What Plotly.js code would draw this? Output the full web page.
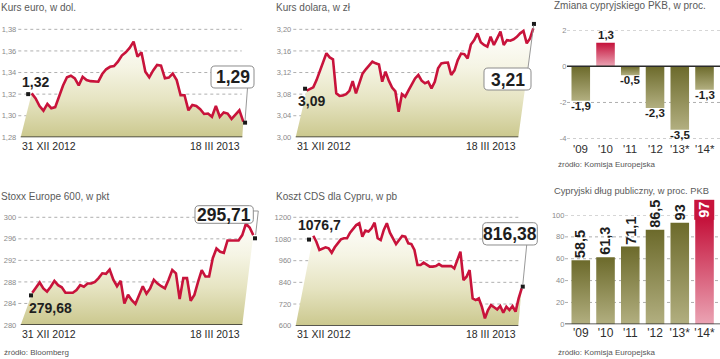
<!DOCTYPE html>
<html><head><meta charset="utf-8">
<script src="https://cdn.plot.ly/plotly-3.0.1.min.js"></script>
<style>html,body{margin:0;padding:0;background:#fff}#chart{width:720px;height:359px}</style>
</head><body><div id="chart"></div>
<script>
// ================= DATA =================
const dateLabels = ["31 XII 2012", "18 III 2013"];

const euroTitle = "Kurs euro, w dol.";
const euroRate = [1.3207,1.316,1.309,1.3047,1.311,1.307,1.308,1.318,1.328,1.3356,
  1.337,1.3346,1.328,1.336,1.333,1.332,1.332,1.3315,1.3386,1.343,
  1.3453,1.346,1.350,1.3557,1.3587,1.3628,1.3686,1.3547,1.3587,1.3408,
  1.3356,1.342,1.347,1.3464,1.3346,1.3353,1.339,1.333,1.319,1.319,
  1.305,1.310,1.309,1.306,1.3016,1.302,1.299,1.309,1.299,1.303,
  1.302,1.297,1.301,1.305,1.2945];
const euroTicks = [1.28,1.30,1.32,1.34,1.36,1.38];
const euroTickText = ["1,28","1,30","1,32","1,34","1,36","1,38"];
const euroStartEnd = [1.32, 1.2936];
const euroStartEndText = ["1,32", "1,29"];

const usdTitle = "Kurs dolara, w zł";
const usdRate = [3.0864,3.0889,3.0926,3.106,3.1216,3.137,3.1556,3.148,3.1446,3.0815,
  3.0768,3.0775,3.080,3.086,3.104,3.0815,3.100,3.118,3.126,3.133,
  3.140,3.137,3.135,3.103,3.1216,3.105,3.092,3.085,3.0475,3.080,
  3.0753,3.087,3.098,3.109,3.1154,3.105,3.100,3.103,3.0907,3.103,
  3.1278,3.137,3.138,3.1383,3.1154,3.124,3.143,3.1551,3.154,3.1463,
  3.1719,3.180,3.1926,3.176,3.171,3.168,3.1864,3.171,3.1833,3.1957,
  3.171,3.180,3.179,3.1815,3.186,3.1926,3.197,3.174,3.1833,3.2019];
const usdTicks = [3.00,3.04,3.08,3.12,3.16,3.20];
const usdTickText = ["3,00","3,04","3,08","3,12","3,16","3,20"];
const usdStartEnd = [3.09, 3.21];
const usdStartEndText = ["3,09", "3,21"];

const stoxxTitle = "Stoxx Europe 600, w pkt";
const stoxx = [286.0,287.0,287.9,286.8,286.2,287.1,288.2,287.4,287.0,286.0,
  286.0,286.0,286.5,287.4,287.1,287.7,287.7,288.0,288.7,289.6,
  289.5,290.3,288.4,287.2,288.2,284.0,285.6,284.6,283.9,285.6,
  287.2,285.8,286.8,288.4,287.7,287.2,286.8,288.4,290.2,289.6,
  284.8,288.7,288.7,284.5,285.6,288.0,290.2,289.0,289.0,292.4,
  294.2,293.6,293.4,295.7,295.7,295.7,295.7,296.7,298.8,298.1,296.7];
const stoxxTicks = [280,284,288,292,296,300];
const stoxxTickText = ["280","284","288","292","296","300"];
const stoxxStartEnd = [285.5, 296.1];
const stoxxStartEndText = ["279,68", "295,71"];

const cdsTitle = "Koszt CDS dla Cypru, w pb";
const cds = [1098,1065,1019,1025,1034,1028,1004,1034,1056,1078,
  1084,1084,1115,1136,1157,1167,1093,1126,1121,1139,
  1170,1084,1074,1130,1167,1115,1084,1052,1074,1097,
  1093,1056,1052,1019,936,936,949,936,927,927,
  930,941,930,930,930,930,917,964,1010,853,
  871,908,751,742,751,705,641,687,714,702,
  690,709,672,705,687,709,678,751,807];
const cdsTicks = [600,720,840,960,1080,1200];
const cdsTickText = ["600","720","840","960","1080","1200"];
const cdsStartEnd = [1076.7, 816.38];
const cdsStartEndText = ["1076,7", "816,38"];

const gdpTitle = "Zmiana cypryjskiego PKB, w proc.";
const years = ["'09","'10","'11","'12","'13*","'14*"];
const gdpChange = [-1.9, 1.3, -0.5, -2.3, -3.5, -1.3];
const gdpTicks = [-4,-2,0,2];
const gdpTickText = ["-4","-2","0","2"];

const debtTitle = "Cypryjski dług publiczny, w proc. PKB";
const debtShare = [58.5, 61.3, 71.1, 86.5, 93, 97];
const debtHighlight = [false,false,false,false,false,true];
const debtTicks = [0,20,40,60,80,100];
const debtTickText = ["0","20","40","60","80","100"];

const srcBloomberg = "źródło: Bloomberg";
const srcKE = "źródło: Komisja Europejska";

// ================= STYLE / LAYOUT =================
const W = 720, H = 359;
const fx = p => p / W;
const fy = p => 1 - p / H;
const FONT = '"Liberation Sans", Arial, sans-serif';
const NARROW = '"Liberation Sans Narrow", "Liberation Sans", Arial, sans-serif';
const RED = 'rgb(200, 20, 60)';
const OLIVE = 'rgb(130, 128, 64)';
const LINE = '#c8133b';
const GRID = '#9a9a9a';

const data = [];
const shapes = [];
const annotations = [];
const layout = {
  width: W, height: H, margin: {l:0, r:0, t:0, b:0},
  paper_bgcolor: '#fff', plot_bgcolor: 'rgba(0,0,0,0)',
  showlegend: false, separators: ', ', bargap: 0.25,
  font: {family: FONT, color: '#333'},
  shapes, annotations
};

function txt(px, py, text, o) {
  o = o || {};
  annotations.push({
    xref: 'paper', yref: 'paper', x: fx(px), y: fy(py), text: text, showarrow: false,
    xanchor: o.xa || 'left', yanchor: o.ya || 'middle', borderpad: 0,
    font: {family: o.family || FONT, size: o.size || 10, color: o.color || '#333', weight: o.weight || 'normal'}
  });
}
function pathPx(pts) {
  return pts.map((p, i) => (i ? 'L' : 'M') + fx(p[0]).toFixed(5) + ',' + fy(p[1]).toFixed(5)).join(' ');
}
function roundRect(x0, y0, x1, y1, r) {
  const P = (x, y) => fx(x).toFixed(5) + ',' + fy(y).toFixed(5);
  return 'M' + P(x0 + r, y0) + ' L' + P(x1 - r, y0) + ' Q' + P(x1, y0) + ' ' + P(x1, y0 + r) +
    ' L' + P(x1, y1 - r) + ' Q' + P(x1, y1) + ' ' + P(x1 - r, y1) +
    ' L' + P(x0 + r, y1) + ' Q' + P(x0, y1) + ' ' + P(x0, y1 - r) +
    ' L' + P(x0, y0 + r) + ' Q' + P(x0, y0) + ' ' + P(x0 + r, y0) + ' Z';
}

function linePanel(n, c) {
  const N = c.vals.length;
  const idx = c.vals.map((_, i) => i);
  const step = (c.L1 - c.L0) / (N - 1);
  const xOf = p => (p - c.L0) / step;
  const k = (c.cal[3] - c.cal[1]) / (c.cal[2] - c.cal[0]);
  const pyAt = v => c.cal[1] + (v - c.cal[0]) * k;
  const leftPx = c.G0 - 1, rightPx = c.rightPx;
  const yMin = c.ticks[0];
  const xa = 'x' + n, ya = 'y' + n;
  layout['xaxis' + n] = {domain: [fx(leftPx), fx(rightPx)], range: [xOf(leftPx), xOf(rightPx)],
    visible: false, fixedrange: true, anchor: ya};
  layout['yaxis' + n] = {domain: [fy(pyAt(yMin)), fy(pyAt(c.yMax))], range: [yMin, c.yMax], anchor: xa,
    tickvals: c.ticks, ticktext: c.tickText, ticks: '', showgrid: false, zeroline: false, showline: false,
    tickfont: {family: FONT, size: 7.5, color: '#8a8a8a'}, ticklabelstandoff: 0, fixedrange: true};
  // gridlines
  c.ticks.slice(1).forEach(t => shapes.push({type: 'line', xref: 'paper', yref: ya, x0: fx(c.G0), x1: fx(c.G1),
    y0: t, y1: t, layer: 'below', line: {color: GRID, width: 0.8, dash: 'dot'}}));
  // area with perspective base
  data.push({type: 'scatter', xaxis: xa, yaxis: ya, mode: 'lines', line: {width: 0},
    x: [xOf(c.B0)].concat(idx, [xOf(c.B1)]), y: [yMin].concat(c.vals, [yMin]),
    fill: 'toself', fillcolor: '#ecebd0',
    fillgradient: {type: 'vertical', start: yMin, stop: c.ticks[c.ticks.length - 1],
      colorscale: [[0, '#cbc88e'], [0.35, '#e6e4c2'], [0.65, '#f5f4e4'], [1, '#ffffff']]},
    hoverinfo: 'skip'});
  // base line
  shapes.push({type: 'line', xref: 'paper', yref: ya, x0: fx(c.B0), x1: fx(c.B1), y0: yMin, y1: yMin,
    layer: 'above', line: {color: '#2a2a2a', width: 1.6}});
  // series line
  data.push({type: 'scatter', xaxis: xa, yaxis: ya, mode: 'lines', x: idx, y: c.vals,
    line: {color: LINE, width: 2.6, shape: 'linear'}, hoverinfo: 'skip'});
  // start / end markers
  data.push({type: 'scatter', xaxis: xa, yaxis: ya, mode: 'markers', cliponaxis: false,
    x: [c.mStart, N - 1 + c.mEnd], y: c.se,
    marker: {symbol: 'square', size: 4, color: '#1a1a1a'}, hoverinfo: 'skip'});
  // texts
  txt(c.titleX, c.titleY, c.title, {size: 10, color: '#5a5a5a'});
  txt(c.B0, c.dateY, dateLabels[0], {size: 10.5, color: '#2a2a2a'});
  txt(c.B1 - 1, c.dateY, dateLabels[1], {size: 10.5, color: '#2a2a2a', xa: 'right'});
  txt(c.sl[0], c.sl[1], c.seText[0], {family: NARROW, size: 14, weight: 'bold', color: '#1e1e1e'});
  // value box
  const b = c.box;
  shapes.push({type: 'path', xref: 'paper', yref: 'paper', path: roundRect(b[0], b[1], b[2], b[3], 4),
    fillcolor: '#ffffff', line: {color: '#8c8c8c', width: 1}, layer: 'above'});
  shapes.push({type: 'path', xref: 'paper', yref: 'paper', path: pathPx(c.ptr),
    line: {color: '#8c8c8c', width: 0.9}, layer: 'above'});
  txt((b[0] + b[2]) / 2, (b[1] + b[3]) / 2 + 0.5, c.seText[1],
    {family: NARROW, size: 17.5, weight: 'bold', color: '#1e1e1e', xa: 'center'});
}

linePanel(1, {vals: euroRate, ticks: euroTicks, tickText: euroTickText, se: euroStartEnd, seText: euroStartEndText,
  title: euroTitle, titleX: 0, titleY: 7, cal: [1.28, 137.33, 1.38, 29.33], yMax: 1.385,
  L0: 31.7, L1: 243.3, B0: 20.7, B1: 242.3, G0: 18.3, G1: 241.7, rightPx: 249,
  mStart: -0.9, mEnd: 0.45, dateY: 146, sl: [20.5, 82],
  box: [211, 66, 254, 88], ptr: [[247.5, 88], [245, 121]]});

linePanel(2, {vals: usdRate, ticks: usdTicks, tickText: usdTickText, se: usdStartEnd, seText: usdStartEndText,
  title: usdTitle, titleX: 275, titleY: 7, cal: [3.00, 137.33, 3.20, 29.33], yMax: 3.21,
  L0: 306.7, L1: 533.3, B0: 295.7, B1: 518.3, G0: 293.3, G1: 518.3, rightPx: 538,
  mStart: -0.5, mEnd: 0.2, dateY: 146, sl: [296.5, 101],
  box: [484, 68, 531, 90], ptr: [[528, 68], [533.6, 25.5]]});

linePanel(3, {vals: stoxx, ticks: stoxxTicks, tickText: stoxxTickText, se: stoxxStartEnd, seText: stoxxStartEndText,
  title: stoxxTitle, titleX: 0, titleY: 196, cal: [280, 325, 300, 217.3], yMax: 300.5,
  L0: 32.3, L1: 253.3, B0: 20.7, B1: 242.3, G0: 18.3, G1: 242.3, rightPx: 259,
  mStart: -0.35, mEnd: 0.46, dateY: 334, sl: [28, 308],
  box: [195, 205.7, 253.3, 223.3], ptr: [[253.3, 211], [258.3, 211], [255.6, 235]]});

linePanel(4, {vals: cds, ticks: cdsTicks, tickText: cdsTickText, se: cdsStartEnd, seText: cdsStartEndText,
  title: cdsTitle, titleX: 275, titleY: 196, cal: [600, 325.7, 1200, 217.3], yMax: 1210,
  L0: 313.3, L1: 521.7, B0: 295.7, B1: 518.3, G0: 293.3, G1: 518.3, rightPx: 527,
  mStart: -1.4, mEnd: 0.35, dateY: 334, sl: [296.5, 225.5],
  box: [482.7, 222.7, 537.3, 245], ptr: [[526.7, 245], [522.8, 284.5]]});

// ---------- bar panels ----------
function barPanel(n, c) {
  const xa = 'x' + n, ya = 'y' + n;
  const k = (c.cal[3] - c.cal[1]) / (c.cal[2] - c.cal[0]);
  const pyAt = v => c.cal[1] + (v - c.cal[0]) * k;
  layout['xaxis' + n] = {domain: [fx(568.4), fx(716.9)], type: 'category', range: [-0.5, 5.5], anchor: ya,
    ticks: '', showline: false, showgrid: false, zeroline: false, fixedrange: true,
    showticklabels: !c.catY,
    tickfont: {family: FONT, size: c.catSize, color: '#2e2e2e'}};
  layout['yaxis' + n] = {domain: [fy(pyAt(c.range[0])), fy(pyAt(c.range[1]))], range: c.range, anchor: xa,
    tickvals: c.ticks, ticktext: c.tickText, ticks: '', showgrid: false, zeroline: false, showline: false,
    tickfont: {family: FONT, size: 7.5, color: '#8a8a8a'}, ticklabelstandoff: c.tickStand, fixedrange: true};
  c.ticks.forEach(t => {
    if (t === 0) return;
    shapes.push({type: 'line', xref: 'paper', yref: ya, x0: fx(c.G0), x1: fx(720), y0: t, y1: t,
      layer: 'below', line: {color: GRID, width: 0.8, dash: 'dot'}});
  });
  data.push({type: 'bar', xaxis: xa, yaxis: ya, x: years, y: c.vals,
    marker: {color: c.colors, line: {width: 0}}, hoverinfo: 'skip', cliponaxis: false});
  shapes.push({type: 'line', xref: 'paper', yref: ya, x0: fx(c.G0), x1: fx(720), y0: 0, y1: 0,
    layer: 'above', line: {color: '#2a2a2a', width: 1.5}});
  if (c.catY) {
    years.forEach(y => annotations.push({xref: xa, yref: 'paper', x: y, y: fy(c.catY), text: y,
      showarrow: false, xanchor: 'center', yanchor: 'top', borderpad: 0,
      font: {family: FONT, size: c.catSize, color: '#2e2e2e'}}));
  }
  txt(553, c.titleY, c.title, {size: c.titleSize, color: '#5a5a5a'});
  txt(556.5, c.srcY, srcKE, {size: 8, color: '#555'});
}

barPanel(5, {vals: gdpChange, ticks: gdpTicks, tickText: gdpTickText, cal: [2, 30, -4, 138.7], range: [-4, 2],
  G0: 567, title: gdpTitle, titleY: 6, titleSize: 10, srcY: 164, catY: 142.3, catSize: 11.5, tickStand: 1,
  colors: gdpChange.map(v => v > 0 ? RED : OLIVE)});

// GDP value labels: above positive bars, below negative bars
gdpChange.forEach((v, i) => {
  annotations.push({xref: 'x5', yref: 'y5', x: years[i], y: v, text: v.toFixed(1).replace('.', ','),
    showarrow: false, xanchor: 'center', yanchor: v > 0 ? 'bottom' : 'top', yshift: v > 0 ? 1 : 2,
    borderpad: 0, font: {family: NARROW, size: 11.5, weight: 'bold', color: '#1e1e1e'}});
});

barPanel(6, {vals: debtShare, ticks: debtTicks, tickText: debtTickText, cal: [100, 215, 0, 324.3], range: [0, 100],
  G0: 565, title: debtTitle, titleY: 190.7, titleSize: 9.3, srcY: 352.7, catY: 0, catSize: 12, tickStand: 3,
  colors: debtHighlight.map(h => h ? RED : OLIVE)});

debtShare.forEach((v, i) => {
  const hl = debtHighlight[i];
  annotations.push({xref: 'x6', yref: 'y6', x: years[i], y: v, text: String(v).replace('.', ','),
    showarrow: false, textangle: -90, xanchor: 'center', yanchor: 'bottom', yshift: hl ? -2 : 1,
    bgcolor: hl ? RED : 'rgba(0,0,0,0)', borderpad: hl ? 1.5 : 0,
    font: {family: NARROW, size: 14.5, weight: 'bold', color: hl ? '#ffffff' : '#1e1e1e'}});
});

txt(3, 352.7, srcBloomberg, {size: 8, color: '#555'});

Plotly.newPlot('chart', data, layout, {staticPlot: true, displayModeBar: false}).then(gd => {
  // vertical shading of the bars (dark top, light bottom) as in the original graphic
  const svg = gd.querySelector('svg.main-svg');
  const NS = 'http://www.w3.org/2000/svg';
  let defs = svg.querySelector('defs');
  if (!defs) { defs = document.createElementNS(NS, 'defs'); svg.insertBefore(defs, svg.firstChild); }
  function grad(id, c0, c1) {
    const g = document.createElementNS(NS, 'linearGradient');
    g.setAttribute('id', id); g.setAttribute('x1', '0'); g.setAttribute('y1', '0');
    g.setAttribute('x2', '0'); g.setAttribute('y2', '1');
    [[0, c0], [1, c1]].forEach(s => {
      const st = document.createElementNS(NS, 'stop');
      st.setAttribute('offset', s[0]); st.setAttribute('stop-color', s[1]); g.appendChild(st);
    });
    defs.appendChild(g);
  }
  grad('gOlive', '#6c6a2b', '#b2af80');
  grad('gRed', '#c4113a', '#eba4b4');
  gd.querySelectorAll('.barlayer .point path').forEach(p => {
    const f = (p.style.fill || '').replace(/\s/g, '');
    if (f.indexOf('200,20,60') >= 0) p.style.fill = 'url(#gRed)';
    else if (f.indexOf('130,128,64') >= 0) p.style.fill = 'url(#gOlive)';
  });
});
</script>
</body></html>
